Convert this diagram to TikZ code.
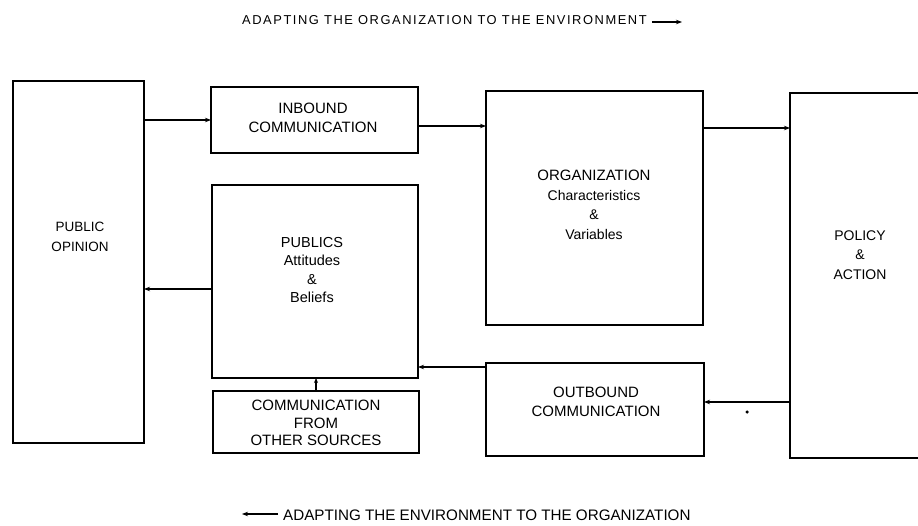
\documentclass[tikz,border=0pt]{standalone}
\usepackage{fontspec}
\setmainfont{Liberation Sans}
\newfontfamily\spacedfont[LetterSpace=12]{Liberation Sans}
\usetikzlibrary{arrows.meta,calc}
\newcommand{\smallline}{\fontsize{14}{20}\selectfont}
\begin{document}
\begin{tikzpicture}[x=1pt,y=-1pt,
  box/.style={draw,line width=1.4pt,inner sep=0pt,outer sep=0pt},
  lbl/.style={align=center,font=\fontsize{15}{19.5}\selectfont,inner sep=0pt},
  arr/.style={line width=1.4pt,-{Stealth[length=6pt,width=4.5pt]}},
  title/.style={inner sep=0pt,anchor=west}]
\useasboundingbox (0,0) rectangle (918,526);

% blocks
\node[box,minimum width=131pt,minimum height=362pt] (opinion) at (78.5,262) {};
\node[box,minimum width=207pt,minimum height=66pt] (inbound) at (314.5,120) {};
\node[box,minimum width=206pt,minimum height=193pt] (publics) at (315,281.5) {};
\node[box,minimum width=206pt,minimum height=62pt] (other) at (316,422) {};
\node[box,minimum width=217pt,minimum height=234pt] (org) at (594.5,208) {};
\node[box,minimum width=218pt,minimum height=93pt] (outbound) at (595,409.5) {};
\node[box,minimum width=150pt,minimum height=365pt] (policy) at (865,275.5) {};

% block texts
\node[lbl,font=\fontsize{13.5}{20}\selectfont] (topinion) at (80,237) {PUBLIC\\OPINION};
\node[lbl] (tinbound) at (313,118) {INBOUND\\COMMUNICATION};
\node[lbl,font=\fontsize{14.5}{18.5}\selectfont] (tpublics) at (312,270) {PUBLICS\\Attitudes\\\&\\Beliefs};
\node[lbl,font=\fontsize{15}{17.5}\selectfont] (tother) at (316,423) {COMMUNICATION\\FROM\\OTHER SOURCES};
\node[lbl] (torg) at (594,205) {ORGANIZATION\\\smallline Characteristics\\\smallline\&\\\smallline Variables};
\node[lbl] (toutbound) at (596,402) {OUTBOUND\\COMMUNICATION};
\node[lbl,font=\fontsize{14}{19.5}\selectfont] (tpolicy) at (860,255) {POLICY\\\&\\ACTION};

% flows
\draw[arr] (opinion.east |- inbound.west) -- (inbound.west);
\draw[arr] ([yshift=-6pt]inbound.east) -- ([yshift=-6pt]inbound.east -| org.west);
\coordinate (orgout) at ($(org.north east)+(0,37)$);
\draw[arr] (orgout) -- (orgout -| policy.west);
\coordinate (polout) at ($(policy.north west)+(0,309)$);
\draw[arr] (polout) -- (polout -| outbound.east);
\coordinate (outpub) at ($(outbound.north west)+(0,4)$);
\draw[arr] (outpub) -- (outpub -| publics.east);
\draw[arr] ([yshift=-7.5pt]publics.west) -- ([yshift=-7.5pt]publics.west -| opinion.east);
\draw[line width=1.4pt,-{Stealth[length=5pt,width=4pt]}] (other.north) -- (other.north |- publics.south);
\node[circle,fill,inner sep=0pt,minimum size=3.5pt] (mark) at (747,412) {};

% direction captions
\node[title,font=\spacedfont\fontsize{12.9}{15}\selectfont] (toptitle) at (242,20) {ADAPTING THE ORGANIZATION TO THE ENVIRONMENT};
\coordinate (topend) at (682,22);
\draw[line width=1.4pt,-{Stealth[length=6pt,width=4.5pt]}] ([xshift=5pt]toptitle.east |- topend) -- (topend);
\node[title,font=\fontsize{15.2}{17}\selectfont] (bottitle) at (283,515) {ADAPTING THE ENVIRONMENT TO THE ORGANIZATION};
\coordinate (botend) at (242,514);
\draw[line width=1.4pt,-{Stealth[length=6pt,width=4.5pt]}] ([xshift=-5pt]bottitle.west |- botend) -- (botend);
\end{tikzpicture}
\end{document}
